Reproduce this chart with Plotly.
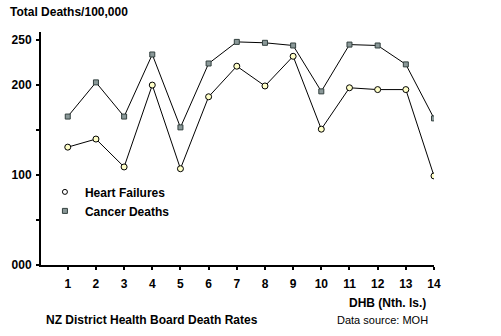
import plotly.graph_objects as go

# District Health Boards (North Island), numbered 1-14
dhb = list(range(1, 15))
heart_failures = [131, 140, 109, 200, 107, 187, 221, 199, 232, 151, 197, 195, 195, 99]
cancer_deaths = [165, 203, 165, 234, 153, 224, 248, 247, 244, 193, 245, 244, 223, 163]

y_tickvals = [0, 50, 100, 150, 200, 250]
y_ticktext = ["000", "", "100", "", "200", "250"]

FONT = "Liberation Sans, Arial, sans-serif"
heart_fill = "#ffffc8"
cancer_fill = "#8a9898"
cancer_edge = "#33403f"

fig = go.Figure()

# connecting lines
fig.add_trace(go.Scatter(x=dhb, y=cancer_deaths, mode="lines+markers",
                         line=dict(color="black", width=1),
                         marker=dict(symbol="square", size=5, color=cancer_fill,
                                     line=dict(color=cancer_edge, width=1)),
                         showlegend=False, hoverinfo="skip"))
fig.add_trace(go.Scatter(x=dhb, y=heart_failures, mode="lines+markers",
                         line=dict(color="black", width=1),
                         marker=dict(symbol="circle", size=6, color=heart_fill,
                                     line=dict(color="black", width=1)),
                         showlegend=False, hoverinfo="skip"))
# legend entries (marker only)
fig.add_trace(go.Scatter(x=[None], y=[None], mode="markers", name="Heart Failures",
                         marker=dict(symbol="circle", size=5, color="white",
                                     line=dict(color="black", width=1))))
fig.add_trace(go.Scatter(x=[None], y=[None], mode="markers", name="Cancer Deaths",
                         marker=dict(symbol="square", size=5, color=cancer_fill,
                                     line=dict(color=cancer_edge, width=1))))

x_range = [0.05, 14]
y_range = [0, 259]
tickfont = dict(family=FONT, size=12, color="black", weight="bold")

fig.update_layout(
    width=501, height=336,
    margin=dict(l=41, r=67, t=32, b=71),
    plot_bgcolor="white", paper_bgcolor="white",
    xaxis=dict(range=x_range, tickvals=dhb, ticks="outside", ticklen=3,
               tickwidth=1.5, tickcolor="black", showgrid=False, zeroline=False,
               showline=True, linecolor="black", linewidth=2,
               tickfont=tickfont, ticklabelstandoff=4),
    yaxis=dict(range=y_range, tickvals=y_tickvals, ticktext=y_ticktext,
               ticks="outside", ticklen=3, tickwidth=1.5, tickcolor="black",
               showgrid=False, zeroline=False, showline=True, linecolor="black",
               linewidth=2, tickfont=tickfont, ticklabelstandoff=2),
    # overlay axes carry the inner half of the crossing tick marks
    xaxis2=dict(range=x_range, overlaying="x", anchor="y", side="bottom",
                tickvals=dhb, ticks="inside", ticklen=3, tickwidth=1.5,
                tickcolor="black", showticklabels=False, showgrid=False,
                zeroline=False, showline=False),
    yaxis2=dict(range=y_range, overlaying="y", anchor="x", side="left",
                tickvals=y_tickvals[1:], ticks="inside", ticklen=3, tickwidth=1.5,
                tickcolor="black", showticklabels=False, showgrid=False,
                zeroline=False, showline=False),
    legend=dict(x=0.01, y=0.376, xanchor="left", yanchor="top",
                bgcolor="rgba(0,0,0,0)", tracegroupgap=0,
                font=dict(family=FONT, size=12, color="black", weight="bold")),
    showlegend=True,
)

fig.add_annotation(text="Total Deaths/100,000", xref="paper", yref="paper",
                   x=-0.085, y=1.086, xanchor="left", yanchor="middle", showarrow=False,
                   font=dict(family=FONT, size=12, color="black", weight="bold"))
fig.add_annotation(text="DHB (Nth. ls.)", xref="paper", yref="paper",
                   x=0.881, y=-0.163, xanchor="center", yanchor="middle", showarrow=False,
                   font=dict(family=FONT, size=12, color="black", weight="bold"))
fig.add_annotation(text="NZ District Health Board Death Rates", xref="paper", yref="paper",
                   x=0.282, y=-0.235, xanchor="center", yanchor="middle", showarrow=False,
                   font=dict(family=FONT, size=12, color="black", weight="bold"))
fig.add_annotation(text="Data source: MOH", xref="paper", yref="paper",
                   x=0.868, y=-0.235, xanchor="center", yanchor="middle", showarrow=False,
                   font=dict(family=FONT, size=11, color="black"))

fig.write_html("out.html")
